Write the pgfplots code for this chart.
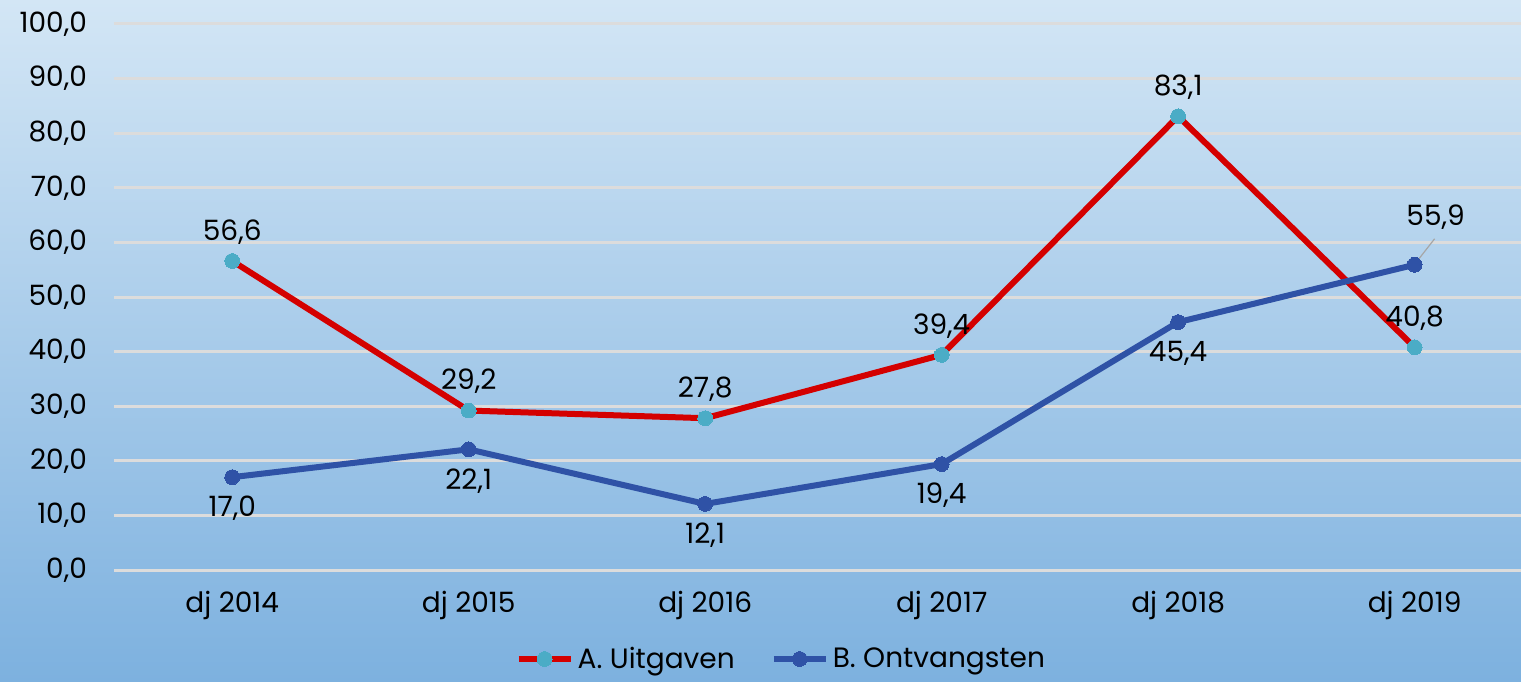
\documentclass[border=0pt]{standalone}
\usepackage{pgfplots}
\pgfplotsset{compat=1.18}
\usepackage{fontspec}
\setmainfont{Poppins}
\definecolor{redline}{HTML}{D40000}
\definecolor{cyanmark}{HTML}{4BACC6}
\definecolor{blueline}{HTML}{2F52A6}
\definecolor{gridc}{HTML}{DCDCDC}
\definecolor{bgtop}{HTML}{D3E6F5}
\definecolor{bgbot}{HTML}{7DB1DF}
\pgfplotsset{
  mylabels/.style={
    nodes near coords={\pgfmathprintnumber[fixed,fixed zerofill,precision=1,use comma]{\pgfplotspointmeta}},
    every node near coord/.append style={font=\fontsize{14}{16}\selectfont, text=black},
  }
}
\begin{document}
\begin{tikzpicture}
\path[use as bounding box] (-57pt,-55.5pt) rectangle (703.5pt,285pt);
\clip (-57pt,-55.5pt) rectangle (703.5pt,285pt);
\shade[top color=bgtop, bottom color=bgbot] (-57pt,-55.5pt) rectangle (703.5pt,285pt);
\begin{axis}[
  scale only axis,
  width=703.5pt, height=273pt,
  xmin=-0.5, xmax=5.45,
  ymin=0, ymax=100,
  ytick distance=10,
  xtick={0,1,2,3,4,5},
  xticklabels={dj 2014,dj 2015,dj 2016,dj 2017,dj 2018,dj 2019},
  axis line style={draw=none},
  major tick length=0pt,
  ymajorgrids,
  grid style={gridc, line width=1.5pt},
  /pgf/number format/assume math mode=true,
  y tick label style={/pgf/number format/fixed, /pgf/number format/fixed zerofill, /pgf/number format/precision=1, /pgf/number format/use comma, /pgf/number format/1000 sep={}},
  ticklabel style={font=\fontsize{14}{16}\selectfont, text=black},
  y tick label style={xshift=-10pt},
  x tick label style={yshift=-7pt},
  legend style={at={(0.475,-0.163)}, anchor=center, draw=none, fill=none,
    font=\fontsize{14}{16}\selectfont, legend columns=2,
    /tikz/every even column/.append style={column sep=16pt}},
  legend image code/.code={\draw[mark repeat=2,mark phase=2,#1] plot coordinates {(0pt,0pt) (13pt,0pt) (26pt,0pt)};},
  clip=false,
]
\addplot[redline, line width=3pt, mark=*, mark size=3.7pt, mark options={fill=cyanmark, draw=cyanmark, line width=0pt},
  mylabels, every node near coord/.append style={anchor=south, yshift=5pt}]
  coordinates {(0,56.6) (1,29.2) (2,27.8) (3,39.4) (4,83.1) (5,40.8)};
\addlegendentry{A. Uitgaven}
\addplot[blueline, line width=3pt, mark=*, mark size=3.7pt, mark options={fill=blueline, draw=blueline, line width=0pt}]
  coordinates {(0,17.0) (1,22.1) (2,12.1) (3,19.4) (4,45.4) (5,55.9)};
\addlegendentry{B. Ontvangsten}
\addplot[draw=none, mark=none, mylabels, every node near coord/.append style={anchor=north, yshift=-6pt}, forget plot]
  coordinates {(0,17.0) (1,22.1) (2,12.1) (3,19.4) (4,45.4)};
\addplot[draw=none, mark=none, mylabels, every node near coord/.append style={anchor=center, xshift=10.5pt, yshift=24pt}, forget plot]
  coordinates {(5,55.9)};
\draw[gray!70, line width=0.6pt] ([xshift=1pt,yshift=1.5pt]axis cs:5,55.9) -- ([xshift=10pt,yshift=13pt]axis cs:5,55.9);
\end{axis}
\end{tikzpicture}
\end{document}
